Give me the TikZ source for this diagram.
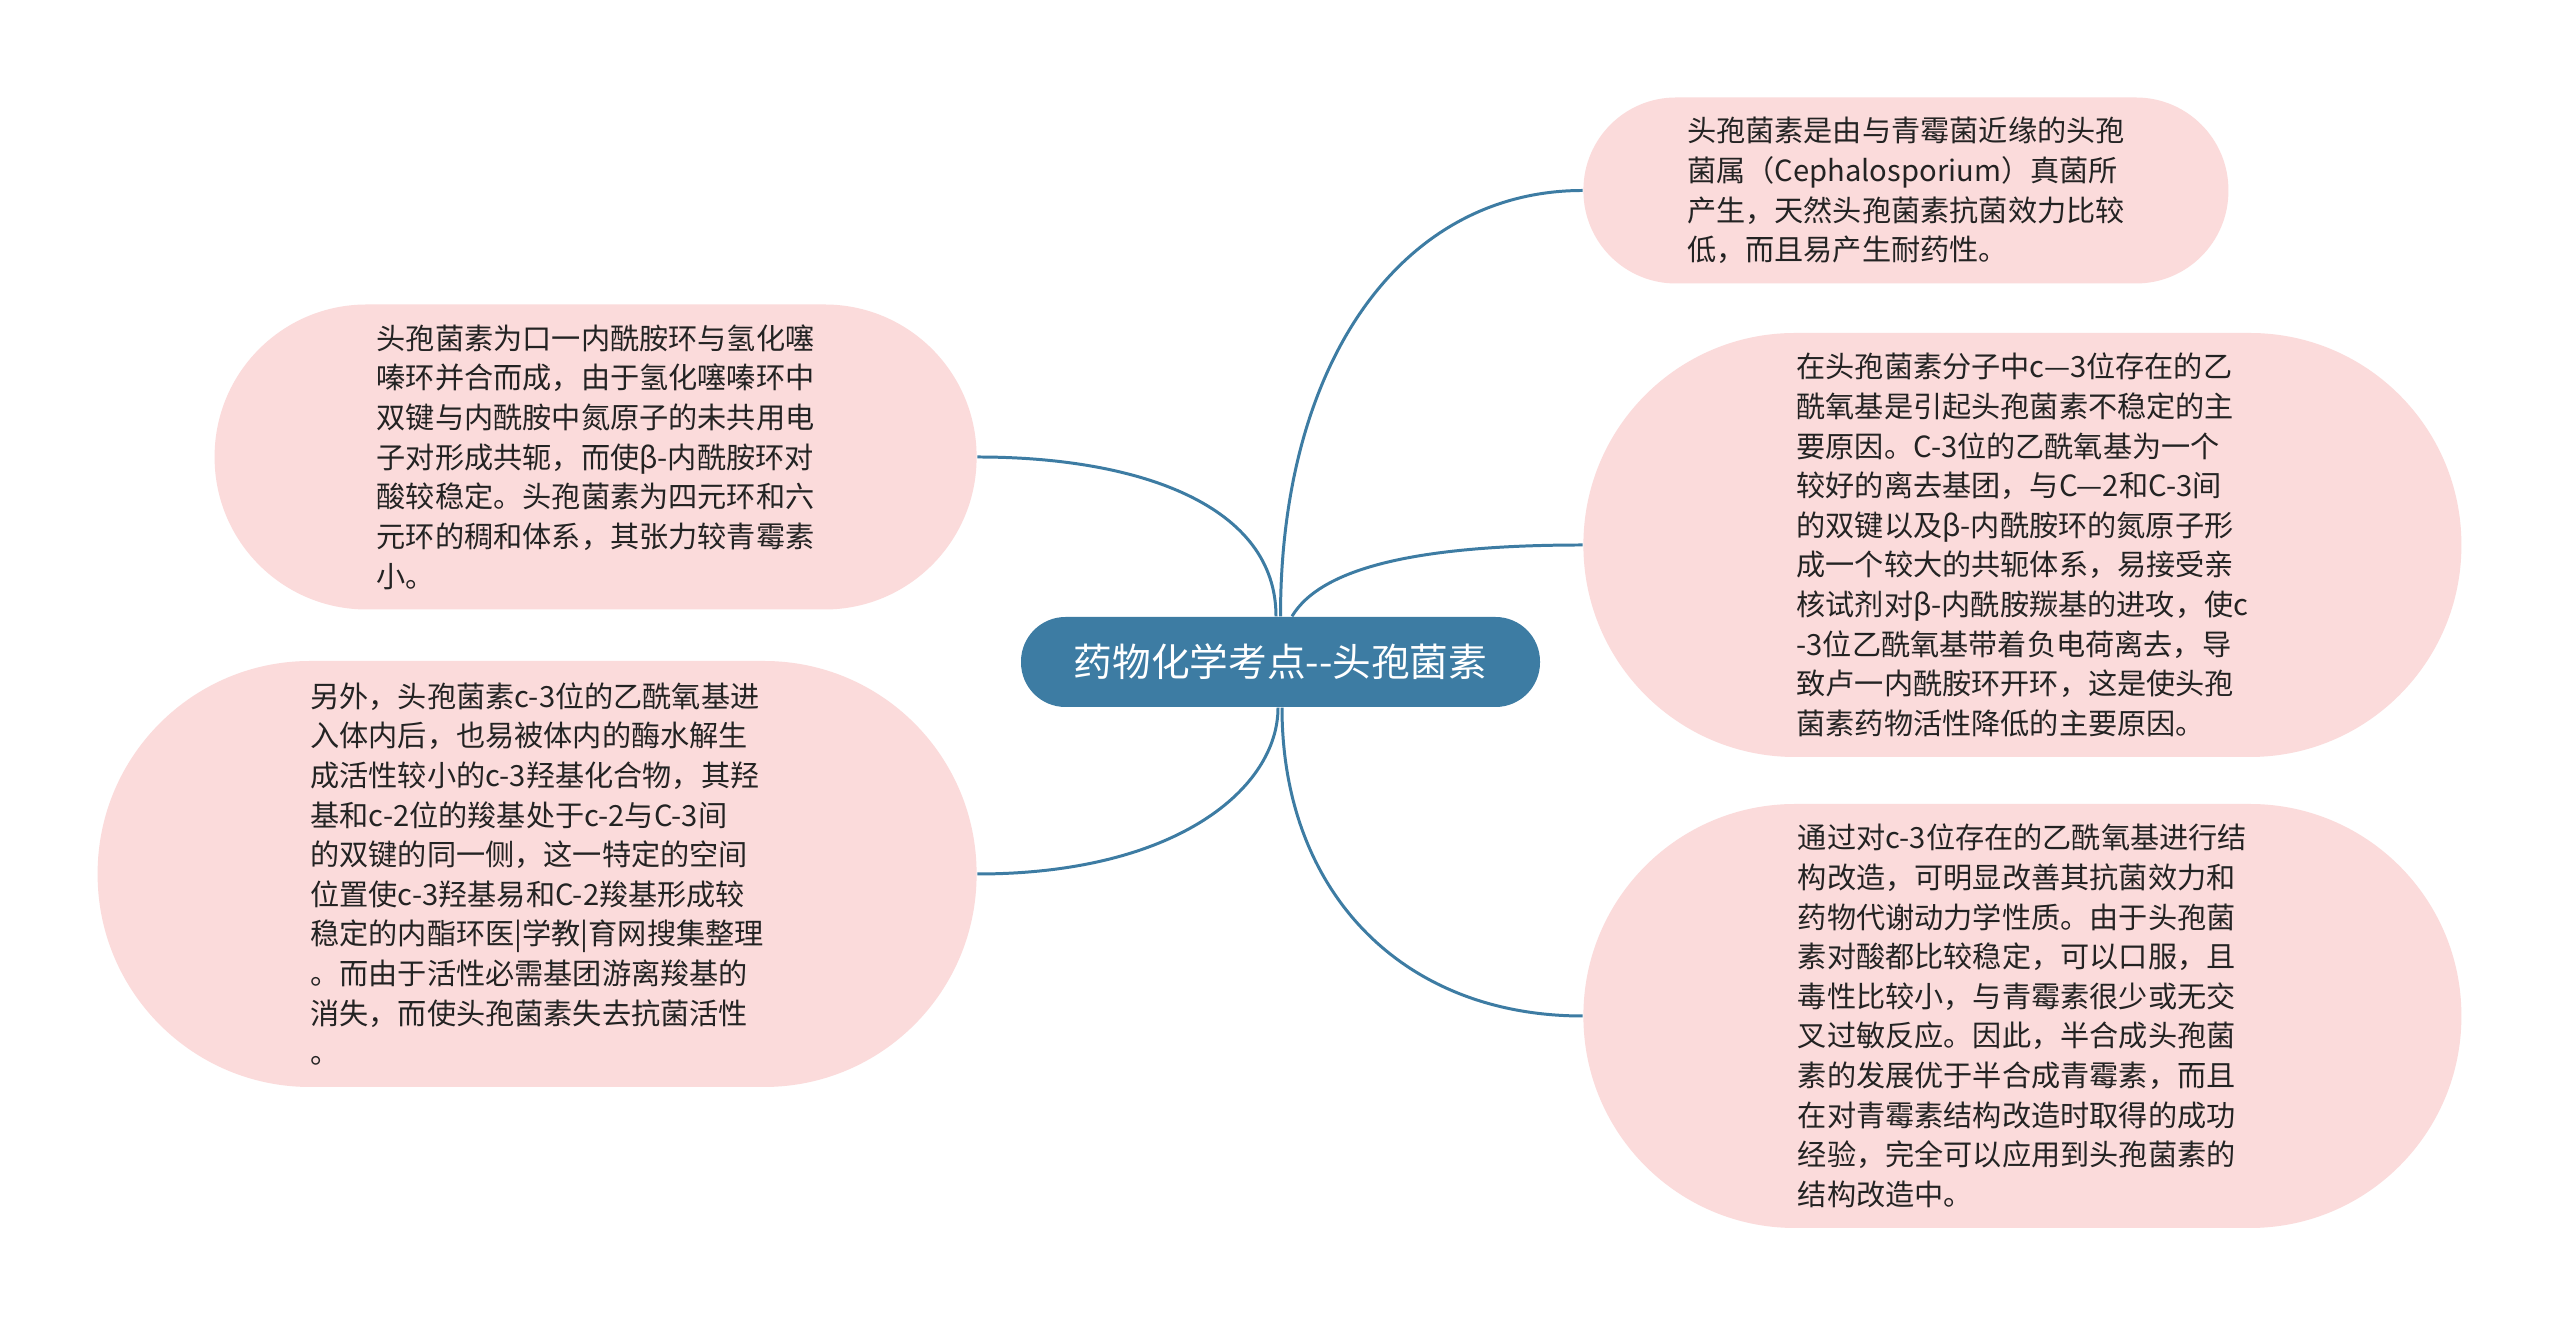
\documentclass[tikz,border=0pt]{standalone}
\usepackage{fontspec}
\setmainfont{Noto Sans CJK SC}
\usepackage{tikz}
\usetikzlibrary{positioning}
\definecolor{topicblue}{RGB}{61,124,163}
\definecolor{leafpink}{RGB}{251,219,219}
\definecolor{leaftext}{RGB}{35,35,35}
\tikzstyle{C} = [rectangle,fill=topicblue,text=white,rounded corners=0.445cm,minimum width=5.19cm,minimum height=0.9cm,inner sep=0pt,font=\fontsize{11pt}{13pt}\selectfont]
\tikzstyle{B} = [rectangle,fill=leafpink,text=leaftext,align=left,inner sep=0pt,font=\fontsize{8.3pt}{11.27pt}\selectfont]
\tikzstyle{link} = [draw=topicblue,line width=0.85pt]

\begin{document}
\begin{tikzpicture}
  \useasboundingbox[fill=white] (0,0) rectangle (25.6,13.25);

  \node [C] (n1) at (12.805,6.63) {药物化学考点-{}-头孢菌素};

  \node [B,right=0.42cm of n1,yshift=4.715cm,minimum width=6.45cm,minimum height=1.86cm,rounded corners=0.925cm] (n2) {头孢菌素是由与青霉菌近缘的头孢\\菌属（Cephalosporium）真菌所\\产生，天然头孢菌素抗菌效力比较\\低，而且易产生耐药性。};
  \node [B,right=0.42cm of n1,yshift=1.17cm,minimum width=8.78cm,minimum height=4.24cm,rounded corners=2.115cm] (n3) {在头孢菌素分子中c—3位存在的乙\\酰氧基是引起头孢菌素不稳定的主\\要原因。C-3位的乙酰氧基为一个\\较好的离去基团，与C—2和C-3间\\的双键以及β-内酰胺环的氮原子形\\成一个较大的共轭体系，易接受亲\\核试剂对β-内酰胺羰基的进攻，使c\\-3位乙酰氧基带着负电荷离去，导\\致卢一内酰胺环开环，这是使头孢\\菌素药物活性降低的主要原因。};
  \node [B,right=0.42cm of n1,yshift=-3.54cm,minimum width=8.78cm,minimum height=4.24cm,rounded corners=2.115cm] (n4) {通过对c-3位存在的乙酰氧基进行结\\构改造，可明显改善其抗菌效力和\\药物代谢动力学性质。由于头孢菌\\素对酸都比较稳定，可以口服，且\\毒性比较小，与青霉素很少或无交\\叉过敏反应。因此，半合成头孢菌\\素的发展优于半合成青霉素，而且\\在对青霉素结构改造时取得的成功\\经验，完全可以应用到头孢菌素的\\结构改造中。};

  \node [B,left=0.43cm of n1,yshift=2.05cm,minimum width=7.62cm,minimum height=3.05cm,rounded corners=1.52cm] (n5) {头孢菌素为口一内酰胺环与氢化噻\\嗪环并合而成，由于氢化噻嗪环中\\双键与内酰胺中氮原子的未共用电\\子对形成共轭，而使β-内酰胺环对\\酸较稳定。头孢菌素为四元环和六\\元环的稠和体系，其张力较青霉素\\小。};
  \node [B,left=0.43cm of n1,yshift=-2.12cm,minimum width=8.79cm,minimum height=4.26cm,rounded corners=2.125cm] (n6) {另外，头孢菌素c-3位的乙酰氧基进\\入体内后，也易被体内的酶水解生\\成活性较小的c-3羟基化合物，其羟\\基和c-2位的羧基处于c-2与C-3间\\的双键的同一侧，这一特定的空间\\位置使c-3羟基易和C-2羧基形成较\\稳定的内酯环医|学教|育网搜集整理\\。而由于活性必需基团游离羧基的\\消失，而使头孢菌素失去抗菌活性\\。};

	\draw [link] (n1.north) .. controls +(0,2.56) and +(-1.8,0) .. (n2.west);
	\draw [link] ([xshift=0.115cm]n1.north) .. controls +(0.3,0.5) and +(-1.6,0) .. (n3.west);
	\draw [link] ([xshift=0.015cm]n1.south) .. controls +(0,-1.85) and +(-1.8,0) .. (n4.west);
	\draw [link] ([xshift=-0.045cm]n1.north) .. controls +(0,1.1) and +(1.64,0) .. (n5.east);
	\draw [link] ([xshift=-0.025cm]n1.south) .. controls +(0,-0.8) and +(2.0,0) .. (n6.east);
\end{tikzpicture}
\end{document}
